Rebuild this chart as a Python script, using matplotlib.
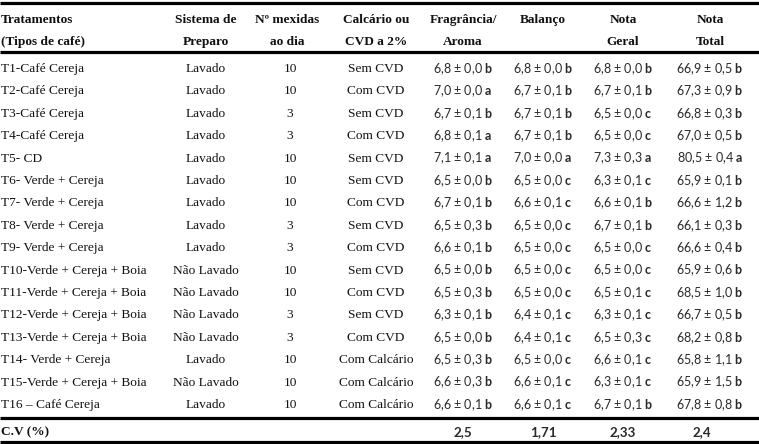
import matplotlib.pyplot as plt

plt.rcParams['mathtext.fontset'] = 'custom'
plt.rcParams['mathtext.bf'] = 'Lato:bold'
plt.rcParams['mathtext.rm'] = 'Lato'

tratamentos = ['T1-Café Cereja', 'T2-Café Cereja', 'T3-Café Cereja', 'T4-Café Cereja',
               'T5- CD', 'T6- Verde + Cereja', 'T7- Verde + Cereja', 'T8- Verde + Cereja',
               'T9- Verde + Cereja', 'T10-Verde + Cereja + Boia', 'T11-Verde + Cereja + Boia',
               'T12-Verde + Cereja + Boia', 'T13-Verde + Cereja + Boia', 'T14- Verde + Cereja',
               'T15-Verde + Cereja + Boia', 'T16 – Café Cereja']
sistema = ['Lavado'] * 9 + ['Não Lavado'] * 4 + ['Lavado', 'Não Lavado', 'Lavado']
mexidas = [10, 10, 3, 3, 10, 10, 10, 3, 3, 10, 10, 3, 3, 10, 10, 10]
calcario = ['Sem CVD', 'Com CVD', 'Sem CVD', 'Com CVD', 'Sem CVD', 'Sem CVD', 'Com CVD',
            'Sem CVD', 'Com CVD', 'Sem CVD', 'Com CVD', 'Sem CVD', 'Com CVD',
            'Com Calcário', 'Com Calcário', 'Com Calcário']

fragrancia = ['6,8 ± 0,0', '7,0 ± 0,0', '6,7 ± 0,1', '6,8 ± 0,1', '7,1 ± 0,1', '6,5 ± 0,0',
              '6,7 ± 0,1', '6,5 ± 0,3', '6,6 ± 0,1', '6,5 ± 0,0', '6,5 ± 0,3', '6,3 ± 0,1',
              '6,5 ± 0,0', '6,5 ± 0,3', '6,6 ± 0,3', '6,6 ± 0,1']
fragrancia_let = ['b', 'a', 'b', 'a', 'a', 'b', 'b', 'b', 'b', 'b', 'b', 'b', 'b', 'b', 'b', 'b']
balanco = ['6,8 ± 0,0', '6,7 ± 0,1', '6,7 ± 0,1', '6,7 ± 0,1', '7,0 ± 0,0', '6,5 ± 0,0',
           '6,6 ± 0,1', '6,5 ± 0,0', '6,5 ± 0,0', '6,5 ± 0,0', '6,5 ± 0,0', '6,4 ± 0,1',
           '6,4 ± 0,1', '6,5 ± 0,0', '6,6 ± 0,1', '6,6 ± 0,1']
balanco_let = ['b', 'b', 'b', 'b', 'a', 'c', 'c', 'c', 'c', 'c', 'c', 'c', 'c', 'c', 'c', 'c']
nota_geral = ['6,8 ± 0,0', '6,7 ± 0,1', '6,5 ± 0,0', '6,5 ± 0,0', '7,3 ± 0,3', '6,3 ± 0,1',
              '6,6 ± 0,1', '6,7 ± 0,1', '6,5 ± 0,0', '6,5 ± 0,0', '6,5 ± 0,1', '6,3 ± 0,1',
              '6,5 ± 0,3', '6,6 ± 0,1', '6,3 ± 0,1', '6,7 ± 0,1']
nota_geral_let = ['b', 'b', 'c', 'c', 'a', 'c', 'b', 'b', 'c', 'c', 'c', 'c', 'c', 'c', 'c', 'b']
nota_total = ['66,9 ± 0,5', '67,3 ± 0,9', '66,8 ± 0,3', '67,0 ± 0,5', '80,5 ± 0,4', '65,9 ± 0,1',
              '66,6 ± 1,2', '66,1 ± 0,3', '66,6 ± 0,4', '65,9 ± 0,6', '68,5 ± 1,0', '66,7 ± 0,5',
              '68,2 ± 0,8', '65,8 ± 1,1', '65,9 ± 1,5', '67,8 ± 0,8']
nota_total_let = ['b', 'b', 'b', 'b', 'a', 'b', 'b', 'b', 'b', 'b', 'b', 'b', 'b', 'b', 'b', 'b']
cv = ['2,5', '1,71', '2,33', '2,4']

cabecalho1 = ['Tratamentos', 'Sistema de', 'Nº mexidas', 'Calcário ou', 'Fragrância/', 'Balanço', 'Nota', 'Nota']
cabecalho2 = ['(Tipos de café)', 'Preparo', 'ao dia', 'CVD a 2%', 'Aroma', '', 'Geral', 'Total']

W, H = 759, 444
fig = plt.figure(figsize=(W / 100, H / 100), dpi=100)
ax = fig.add_axes([0, 0, 1, 1])
ax.set_xlim(0, W)
ax.set_ylim(H, 0)
ax.axis('off')

serif = 'Liberation Serif'
cor = '#111111'
cor_num = '#2a2a2a'
fs = 9.6
fs_num = 9.0

# posicoes das colunas
col_x = [1, 206, 287, 376, 463, 543, 623, 710]

# linhas
for y in [3, 52, 418, 442]:
    ax.plot([0, W], [y, y], color='black', lw=2.3, solid_capstyle='butt')

# cabecalho
for i, (h1, h2) in enumerate(zip(cabecalho1, cabecalho2)):
    ha = 'left' if i == 0 else 'center'
    ax.text(col_x[i], 20, h1, ha=ha, va='center', family=serif, weight='bold', fontsize=fs, color=cor)
    ax.text(col_x[i], 42, h2, ha=ha, va='center', family=serif, weight='bold', fontsize=fs, color=cor)

y0, dy = 69, 22.4
numcols = [(fragrancia, fragrancia_let), (balanco, balanco_let),
           (nota_geral, nota_geral_let), (nota_total, nota_total_let)]
for r in range(len(tratamentos)):
    y = y0 + r * dy
    ax.text(col_x[0], y, tratamentos[r], ha='left', va='center', family=serif, fontsize=fs, color=cor)
    ax.text(col_x[1], y, sistema[r], ha='center', va='center', family=serif, fontsize=fs, color=cor)
    ax.text(col_x[2] + 3, y, str(mexidas[r]), ha='center', va='center', family=serif, fontsize=fs, color=cor)
    ax.text(col_x[3], y, calcario[r], ha='center', va='center', family=serif, fontsize=fs, color=cor)
    for j, (vals, lets) in enumerate(numcols):
        s = vals[r] + ' $\\mathbf{' + lets[r] + '}$'
        ax.text(col_x[4 + j], y, s, ha='center', va='center', family='Lato', fontsize=fs_num, color=cor_num)

ax.text(col_x[0], 432, 'C.V (%)', ha='left', va='center', family=serif, weight='bold', fontsize=fs, color=cor)
for j, v in enumerate(cv):
    ax.text(col_x[4 + j] - (8 if j == 3 else 0), 432, v, ha='center', va='center', family='Lato',
            weight='bold', fontsize=fs, color=cor_num)

fig.savefig('out.png', dpi=100)
